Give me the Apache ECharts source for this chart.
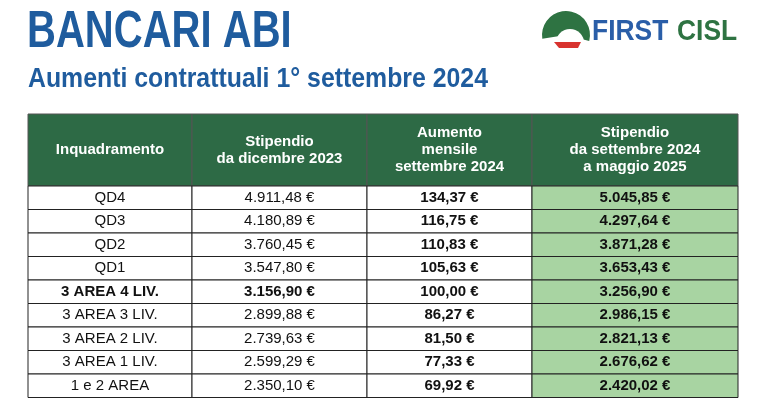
<!DOCTYPE html>
<html>
<head>
<meta charset="utf-8">
<script src="https://cdn.jsdelivr.net/npm/echarts@6/dist/echarts.min.js"></script>
<style>
  html, body { margin: 0; background: #fff; }
  #main { width: 770px; height: 400px; }
</style>
</head>
<body>
<div id="main"></div>
<script>
var headers = ['Inquadramento', 'Stipendio\nda dicembre 2023', 'Aumento\nmensile\nsettembre 2024', 'Stipendio\nda settembre 2024\na maggio 2025'];
var levels = ['QD4', 'QD3', 'QD2', 'QD1', '3 AREA 4 LIV.', '3 AREA 3 LIV.', '3 AREA 2 LIV.', '3 AREA 1 LIV.', '1 e 2 AREA'];
var salary2023 = ['4.911,48 €', '4.180,89 €', '3.760,45 €', '3.547,80 €', '3.156,90 €', '2.899,88 €', '2.739,63 €', '2.599,29 €', '2.350,10 €'];
var increase = ['134,37 €', '116,75 €', '110,83 €', '105,63 €', '100,00 €', '86,27 €', '81,50 €', '77,33 €', '69,92 €'];
var salary2024 = ['5.045,85 €', '4.297,64 €', '3.871,28 €', '3.653,43 €', '3.256,90 €', '2.986,15 €', '2.821,13 €', '2.676,62 €', '2.420,02 €'];
var boldRow = '3 AREA 4 LIV.';

// layout: column and row edges in axis units
var colEdges = [0, 164, 339, 504, 710];
var headerH = 72, rowH = 23.5;

var cells = [];
headers.forEach(function (h, c) { cells.push([c, -1, h]); });
levels.forEach(function (lv, r) {
  [lv, salary2023[r], increase[r], salary2024[r]].forEach(function (t, c) { cells.push([c, r, t]); });
});

function rowTop(r) { return r < 0 ? 0 : headerH + r * rowH; }

var myChart = echarts.init(document.getElementById('main'));
myChart.setOption({
  animation: false,
  grid: { left: 28, top: 114, width: 710, height: headerH + levels.length * rowH },
  xAxis: { type: 'value', min: 0, max: 710, show: false },
  yAxis: { type: 'value', min: 0, max: headerH + levels.length * rowH, inverse: true, show: false },
  graphic: [
    { type: 'text', x: 27, y: 7, scaleX: 0.77, style: { text: 'BANCARI ABI', font: 'bold 52px "Liberation Sans", Arial, sans-serif', fill: '#1f5c9e' } },
    { type: 'text', x: 28, y: 66, scaleX: 0.92, style: { text: 'Aumenti contrattuali 1° settembre 2024', font: 'bold 27px "Liberation Sans", Arial, sans-serif', fill: '#1f5c9e' } },
    { type: 'sector', shape: { cx: 566, cy: 35, r0: 0, r: 24, startAngle: Math.PI * 0.95, endAngle: Math.PI * 2.08 }, style: { fill: '#2e7342' } },
    { type: 'circle', shape: { cx: 570, cy: 43, r: 14 }, style: { fill: '#fff' } },
    { type: 'polygon', shape: { points: [[554, 42], [581, 42], [578, 48], [559, 48]] }, style: { fill: '#d8332f' } },
    { type: 'text', x: 592, y: 17, scaleX: 0.88, style: { text: 'FIRST', font: 'bold 30px "Liberation Sans", Arial, sans-serif', fill: '#2a5ea8' } },
    { type: 'text', x: 677, y: 17, scaleX: 0.88, style: { text: 'CISL', font: 'bold 30px "Liberation Sans", Arial, sans-serif', fill: '#2e7342' } }
  ],
  series: [{
    type: 'custom',
    data: cells,
    renderItem: function (params, api) {
      var c = api.value(0), r = api.value(1);
      var text = cells[params.dataIndex][2];
      var y0 = rowTop(r), y1 = r < 0 ? headerH : y0 + rowH;
      var p0 = api.coord([colEdges[c], y0]), p1 = api.coord([colEdges[c + 1], y1]);
      var header = r < 0;
      var fill = header ? '#2d6a45' : (c === 3 ? '#a8d4a2' : '#fff');
      var bold = header || c >= 2 || levels[r] === boldRow;
      return {
        type: 'group',
        children: [
          { type: 'rect', shape: { x: p0[0], y: p0[1], width: p1[0] - p0[0], height: p1[1] - p0[1] },
            style: { fill: fill, stroke: header ? '#555' : '#222', lineWidth: 1 } },
          { type: 'text', style: {
              text: text, x: (p0[0] + p1[0]) / 2, y: (p0[1] + p1[1]) / 2,
              align: 'center', verticalAlign: 'middle',
              font: (bold ? 'bold ' : '') + '15px "Liberation Sans", Arial, sans-serif',
              lineHeight: 17, fill: header ? '#fff' : '#111' } }
        ]
      };
    }
  }]
});
</script>
</body>
</html>
